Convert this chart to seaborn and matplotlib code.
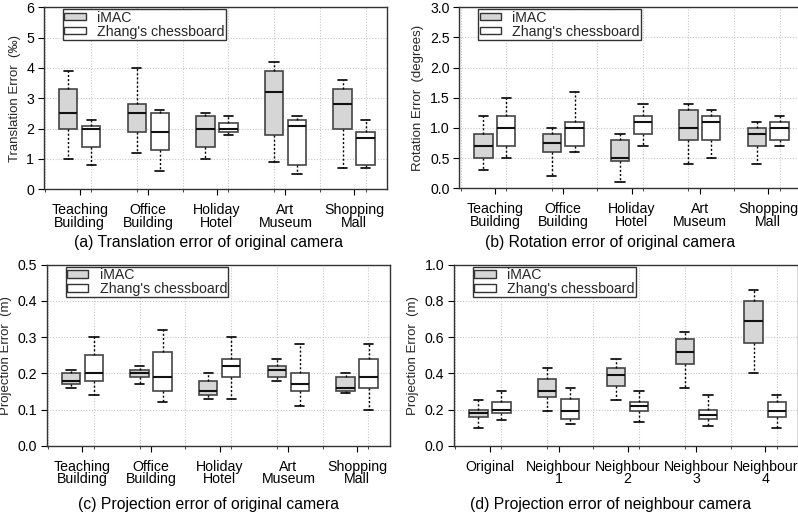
import numpy as np
import pandas as pd
import matplotlib
matplotlib.use("Agg")
import matplotlib.pyplot as plt
from matplotlib.patches import Patch
import seaborn as sns

# ---------------- data (five-number summaries: min, q1, median, q3, max) ----------------
places = ["Teaching\nBuilding", "Office\nBuilding", "Holiday\nHotel", "Art\nMuseum", "Shopping\nMall"]
cams = ["Original", "Neighbour\n1", "Neighbour\n2", "Neighbour\n3", "Neighbour\n4"]
methods = ["iMAC", "Zhang's chessboard"]

trans_imac = [[1.0, 2.0, 2.5, 3.3, 3.9], [1.2, 1.9, 2.5, 2.8, 4.0], [1.0, 1.4, 2.0, 2.4, 2.5],
              [0.9, 1.8, 3.2, 3.9, 4.2], [0.7, 2.0, 2.8, 3.3, 3.6]]
trans_zhang = [[0.8, 1.4, 2.0, 2.1, 2.3], [0.6, 1.3, 1.9, 2.5, 2.6], [1.8, 1.9, 2.0, 2.2, 2.4],
               [0.5, 0.8, 2.1, 2.3, 2.4], [0.7, 0.8, 1.7, 1.9, 2.3]]

rot_imac = [[0.3, 0.5, 0.7, 0.9, 1.2], [0.2, 0.6, 0.75, 0.9, 1.0], [0.1, 0.45, 0.5, 0.8, 0.9],
            [0.4, 0.8, 1.0, 1.3, 1.4], [0.4, 0.7, 0.9, 1.0, 1.1]]
rot_zhang = [[0.5, 0.7, 1.0, 1.2, 1.5], [0.6, 0.7, 1.0, 1.1, 1.6], [0.7, 0.9, 1.1, 1.2, 1.4],
             [0.5, 0.8, 1.1, 1.2, 1.3], [0.7, 0.8, 1.0, 1.1, 1.2]]

proj_imac = [[0.16, 0.17, 0.18, 0.20, 0.21], [0.17, 0.19, 0.20, 0.21, 0.22], [0.13, 0.14, 0.15, 0.18, 0.20],
             [0.18, 0.19, 0.21, 0.22, 0.24], [0.145, 0.15, 0.16, 0.19, 0.20]]
proj_zhang = [[0.14, 0.18, 0.20, 0.25, 0.30], [0.12, 0.15, 0.19, 0.26, 0.32], [0.13, 0.19, 0.22, 0.24, 0.30],
              [0.11, 0.15, 0.17, 0.20, 0.28], [0.10, 0.16, 0.19, 0.24, 0.28]]

nb_imac = [[0.10, 0.16, 0.18, 0.20, 0.25], [0.19, 0.27, 0.30, 0.37, 0.43], [0.25, 0.33, 0.39, 0.43, 0.48],
           [0.32, 0.45, 0.52, 0.59, 0.63], [0.40, 0.57, 0.69, 0.80, 0.86]]
nb_zhang = [[0.14, 0.18, 0.20, 0.24, 0.30], [0.12, 0.15, 0.19, 0.26, 0.32], [0.13, 0.19, 0.22, 0.24, 0.30],
            [0.11, 0.15, 0.17, 0.20, 0.28], [0.10, 0.16, 0.19, 0.24, 0.28]]

ylabels = ["Translation Error  (\u2030)", "Rotation Error  (degrees)", "Projection Error  (m)", "Projection Error  (m)"]
captions = ["(a) Translation error of original camera", "(b) Rotation error of original camera",
            "(c) Projection error of original camera", "(d) Projection error of neighbour camera"]
yticks = [np.arange(0, 6.01, 1), np.arange(0, 3.01, 0.5), np.arange(0, 0.51, 0.1), np.arange(0, 1.01, 0.2)]
ytick_fmt = ["{:.0f}", "{:.1f}", "{:.1f}", "{:.1f}"]

# ---------------- style ----------------
sns.set_theme(style="white")
plt.rcParams["font.family"] = ["Liberation Sans", "DejaVu Sans"]
plt.rcParams["axes.edgecolor"] = "#333333"

palette = {"iMAC": "#d6d6d6", "Zhang's chessboard": "#ffffff"}

def long_frame(cats, a, b):
    rows = []
    for cat, va, vb in zip(cats, a, b):
        for v in va:
            rows.append((cat, methods[0], v))
        for v in vb:
            rows.append((cat, methods[1], v))
    return pd.DataFrame(rows, columns=["cat", "method", "value"])

panels = [
    (places, trans_imac, trans_zhang),
    (places, rot_imac, rot_zhang),
    (places, proj_imac, proj_zhang),
    (cams, nb_imac, nb_zhang),
]

W, H = 798, 520
fig = plt.figure(figsize=(W / 100, H / 100), dpi=100)

# axes rectangles in pixels: left, top, right, bottom
rects = [(44, 7.3, 387, 189.3), (459.3, 7.3, 801, 188.3), (46.7, 264.7, 390, 445.7), (454, 264.7, 798.3, 445.7)]
cap_pos = [(208, 242), (610, 242), (208, 505), (611, 505)]

for i, ((cats, a, b), (l, t, r, btm)) in enumerate(zip(panels, rects)):
    ax = fig.add_axes([l / W, 1 - btm / H, (r - l) / W, (btm - t) / H])
    df = long_frame(cats, a, b)
    sns.boxplot(data=df, x="cat", y="value", hue="method", order=cats, hue_order=methods,
                palette=palette, whis=(0, 100), width=0.67, gap=0.2, linecolor="#444444",
                linewidth=1.2, legend=False, ax=ax,
                medianprops=dict(color="#111111", linewidth=1.5, zorder=5),
                whiskerprops=dict(color="black", linestyle=(0, (1.5, 1.5)), linewidth=1.0),
                capprops=dict(color="black", linewidth=1.2))
    ax.set_xlim(-0.52, 4.48)
    ax.set_ylim(yticks[i][0], yticks[i][-1])
    ax.set_yticks(yticks[i])
    ax.set_yticklabels([ytick_fmt[i].format(v) for v in yticks[i]])
    ax.set_xticks(range(len(cats)))
    ax.set_xticklabels(cats, linespacing=0.85)
    ax.set_xticks(np.arange(-0.5, 4.5, 2 / 3), minor=True)
    ax.set_xlabel("")
    ax.set_ylabel(ylabels[i], fontsize=9.5)
    ax.tick_params(axis="both", which="major", direction="out", length=4, width=0.8,
                   labelsize=10.2, colors="black", pad=3, bottom=True, left=True)
    ax.tick_params(axis="x", which="major", pad=6)
    ax.tick_params(axis="x", which="minor", direction="out", length=2, width=0.6, bottom=True)
    ax.grid(axis="y", which="major", color="#c8c8c8", linestyle=(0, (1, 1.5)), linewidth=0.8)
    ax.grid(axis="x", which="minor", color="#c8c8c8", linestyle=(0, (1, 1.5)), linewidth=0.8)
    ax.set_axisbelow(True)
    for s in ax.spines.values():
        s.set_linewidth(1.0)
        s.set_color("#333333")
    handles = [Patch(facecolor=palette[m], edgecolor="#333333", linewidth=1.0, label=m) for m in methods]
    leg = ax.legend(handles=handles, loc="upper left", bbox_to_anchor=(0.055, 0.99), fontsize=10.2,
                    frameon=True, fancybox=False, edgecolor="#333333", framealpha=1,
                    handlelength=1.5, handleheight=0.45, handletextpad=0.8, borderpad=0.1,
                    labelspacing=0.0, borderaxespad=0)
    leg.get_frame().set_linewidth(1.0)
    cx, cy = cap_pos[i]
    fig.text(cx / W, 1 - cy / H, captions[i], ha="center", va="center", fontsize=11.3, color="black")

fig.savefig("out.png", dpi=100)
